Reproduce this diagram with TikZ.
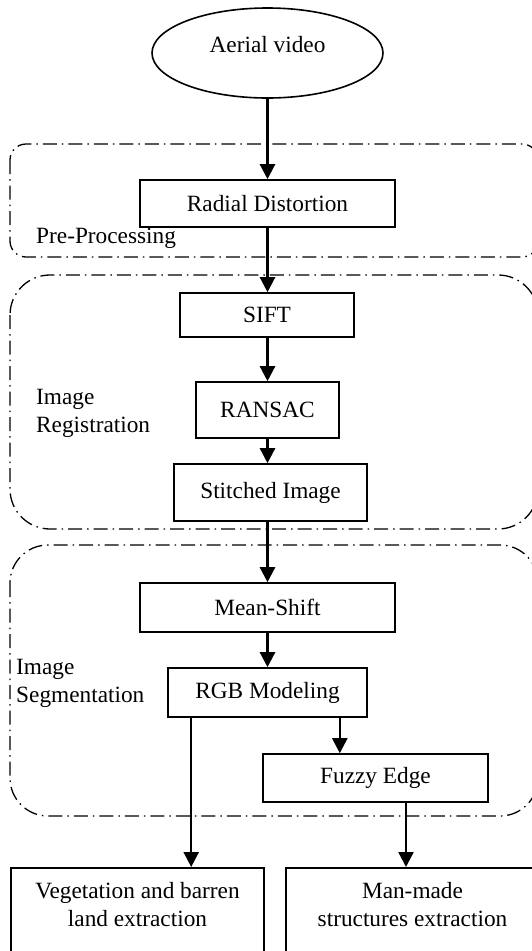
\documentclass[tikz,border=0pt]{standalone}
\usepackage{fontspec}
\setmainfont{Liberation Serif}
\usetikzlibrary{arrows.meta,shapes.geometric}

\begin{document}
\begin{tikzpicture}[x=1pt,y=-1pt,
    font=\fontsize{23.3}{28}\selectfont,
    box/.style={draw, line width=1.6pt, inner sep=0pt},
    outbox/.style={box, anchor=north, align=center, inner ysep=15pt, text depth=70pt, minimum width=253pt},
    group/.style={line width=1.3pt, dash pattern=on 14pt off 5pt on 1.5pt off 5pt},
    arr/.style={line width=2.4pt, -{Triangle[length=15pt,width=15pt]}},
    lbl/.style={align=left, anchor=base west, inner sep=0pt}]
  \path[use as bounding box, clip] (0,0) rectangle (532,951);
  % stage frames
  \draw[group, rounded corners=16pt] (10,144) rectangle (538,257);
  \draw[group, rounded corners=40pt] (10,275) rectangle (538,529);
  \draw[group, rounded corners=38pt] (10,545) rectangle (538,816);
  \node[lbl] (prelbl) at (36,243) {Pre-Processing};
  \node[lbl] (reglbl) at (36,432) {Image\\Registration};
  \node[lbl] (seglbl) at (16,702) {Image\\Segmentation};
  % steps
  \node[draw, ellipse, line width=1.6pt, inner sep=0pt, minimum width=231pt, minimum height=90pt,
        text height=16pt, text depth=18pt] (video) at (267.5,53) {Aerial video};
  \node[box, minimum width=255pt, minimum height=47pt] (radial) at (267.5,203.5) {Radial Distortion};
  \node[box, minimum width=174pt, minimum height=44pt] (sift) at (267,315) {SIFT};
  \node[box, minimum width=143pt, minimum height=56pt] (ransac) at (267.5,410) {RANSAC};
  \node[box, minimum width=193pt, minimum height=57pt] (stitched) at (270.5,492.5) {Stitched Image};
  \node[box, minimum width=255pt, minimum height=49pt] (mean) at (267.5,607.5) {Mean-Shift};
  \node[box, minimum width=199pt, minimum height=49pt] (rgb) at (267.5,692.5) {RGB Modeling};
  \node[box, minimum width=225pt, minimum height=48pt] (fuzzy) at (375.5,778) {Fuzzy Edge};
  \node[outbox] (veg) at (137.5,867) {Vegetation and barren\\land extraction};
  \node[outbox] (man) at (412.5,867) {Man-made\\structures extraction};
  % arrows
  \draw[arr] (video.south) -- (video.south |- radial.north);
  \draw[arr] (radial.south) -- (radial.south |- sift.north);
  \draw[arr] (ransac.north |- sift.south) -- (ransac.north);
  \draw[arr] (ransac.south) -- (ransac.south |- stitched.north);
  \draw[arr] (mean.north |- stitched.south) -- (mean.north);
  \draw[arr] (mean.south) -- (rgb.north);
  \draw[arr] ([xshift=-28pt]rgb.south east) -- ([xshift=-28pt]rgb.south east |- fuzzy.north);
  \draw[arr] ([xshift=24pt]rgb.south west) -- ([xshift=24pt]rgb.south west |- veg.north);
  \draw[arr] ([xshift=30.5pt]fuzzy.south) -- ([xshift=30.5pt]fuzzy.south |- man.north);
\end{tikzpicture}
\end{document}
